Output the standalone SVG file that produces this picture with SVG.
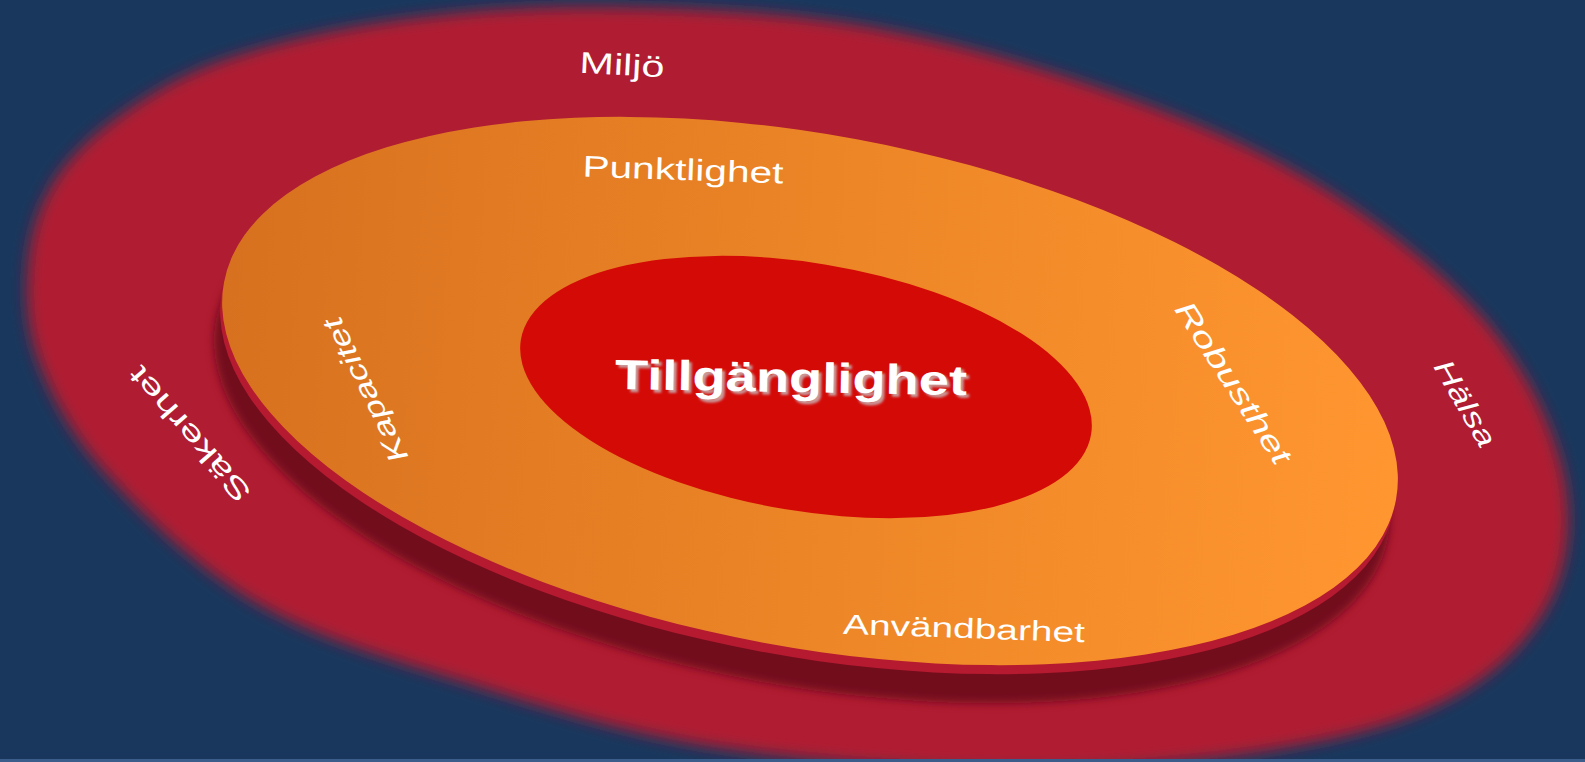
<svg xmlns="http://www.w3.org/2000/svg" width="1585" height="762" viewBox="0 0 1585 762">
  <defs>
    <filter id="blurOuter" x="-10%" y="-10%" width="120%" height="120%">
      <feGaussianBlur stdDeviation="7.5"/>
    </filter>
    <filter id="blurShadow" x="-10%" y="-10%" width="120%" height="120%">
      <feGaussianBlur stdDeviation="4"/>
    </filter>
    <filter id="txtShadow" x="-10%" y="-30%" width="120%" height="160%">
      <feGaussianBlur stdDeviation="1"/>
    </filter>
    <linearGradient id="orangeGrad" gradientUnits="userSpaceOnUse" x1="220" y1="450" x2="1400" y2="330">
      <stop offset="0" stop-color="#d8711f"/>
      <stop offset="0.5" stop-color="#ec8526"/>
      <stop offset="1" stop-color="#ff9630"/>
    </linearGradient>
    <ellipse id="discShape" cx="810" cy="391" rx="596" ry="256" transform="rotate(10.5 810 391)"/>
  </defs>
  <style>
    .lbl { font-family: "Liberation Sans", Arial, sans-serif; fill: #ffffff; text-anchor: middle; }
    .it { font-style: italic; }
    .big { font-weight: bold; }
  </style>

  <rect x="0" y="0" width="1585" height="762" fill="#19375d"/>

  <g id="outer-ring">
    <path d="M28,265 C30.5,234.2 38.8,205.5 55,180 C71.2,154.5 95.8,132.3 125,112 C154.2,91.7 184.2,73.3 230,58 C275.8,42.7 338.3,28.5 400,20 C461.7,11.5 525,6.3 600,7 C675,7.7 768.3,11 850,24 C931.7,37 1013.3,59 1090,85 C1166.7,111 1245,141.7 1310,180 C1375,218.3 1438.3,268.3 1480,315 C1521.7,361.7 1547.5,414.2 1560,460 C1572.5,505.8 1570.8,551.7 1555,590 C1539.2,628.3 1507.5,664.2 1465,690 C1422.5,715.8 1372.5,731.7 1300,745 C1227.5,758.3 1126.7,769.5 1030,770 C933.3,770.5 813.3,762.3 720,748 C626.7,733.7 546.7,707.8 470,684 C393.3,660.2 320,639.3 260,605 C200,570.7 146.7,518 110,478 C73.3,438 53.7,400.5 40,365 C26.3,329.5 25.5,295.8 28,265 Z" fill="#b01a32" filter="url(#blurOuter)"/>
    <text class="lbl" x="622" y="75" font-size="30" textLength="85" lengthAdjust="spacingAndGlyphs" transform="rotate(3 622 65)">Miljö</text>
    <text class="lbl" x="0" y="0" font-size="28" textLength="170" lengthAdjust="spacingAndGlyphs" transform="translate(197 428) rotate(-131)">Säkerhet</text>
    <text class="lbl it" x="0" y="0" font-size="28" textLength="96" lengthAdjust="spacingAndGlyphs" transform="translate(1457 408) rotate(60)">Hälsa</text>
  </g>

  <rect x="0" y="759" width="1585" height="3" fill="#3a5d8c"/>

  <g id="middle-disc">
    <use href="#discShape" transform="translate(-8 38)" fill="#72101f" filter="url(#blurShadow)"/>
    <use href="#discShape" transform="translate(-2 9)" fill="#b51a30"/>
    <use href="#discShape" fill="url(#orangeGrad)"/>
    <text class="lbl" x="683" y="180" font-size="30" textLength="201" lengthAdjust="spacingAndGlyphs" transform="rotate(2 683 170)">Punktlighet</text>
    <text class="lbl" x="964" y="638" font-size="28" textLength="242" lengthAdjust="spacingAndGlyphs" transform="rotate(2 964 628)">Användbarhet</text>
    <text class="lbl it" x="0" y="0" font-size="28" textLength="158" lengthAdjust="spacingAndGlyphs" transform="translate(374 386) rotate(-116)">Kapacitet</text>
    <text class="lbl it" x="0" y="0" font-size="29" textLength="188" lengthAdjust="spacingAndGlyphs" transform="translate(1225 388) rotate(57)">Robusthet</text>
  </g>

  <g id="center">
    <ellipse cx="806" cy="387" rx="289" ry="124" transform="rotate(9.4 806 387)" fill="#d40a07"/>
    <text class="lbl big" x="794" y="395" font-size="42" textLength="352" lengthAdjust="spacingAndGlyphs" style="fill:#c99a9a" transform="rotate(1 791 380)" filter="url(#txtShadow)">Tillgänglighet</text>
    <text class="lbl big" x="791" y="392" font-size="42" textLength="352" lengthAdjust="spacingAndGlyphs" transform="rotate(1 791 380)">Tillgänglighet</text>
  </g>

  <g id="connectors"></g>
</svg>
